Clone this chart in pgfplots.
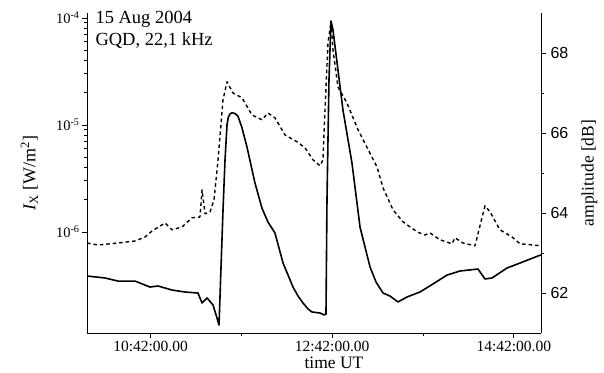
\documentclass[border=0pt]{standalone}
\usepackage{pgfplots}
\pgfplotsset{compat=1.18}
\usepackage{fontspec}
\setmainfont{Liberation Serif}
\newfontfamily\arialfont{Liberation Sans}

\pgfplotstableread{
t I
10.000 3.88e-7
10.198 3.72e-7
10.341 3.48e-7
10.529 3.48e-7
10.694 3.06e-7
10.782 3.13e-7
10.936 2.87e-7
11.079 2.75e-7
11.222 2.69e-7
11.267 2.17e-7
11.322 2.42e-7
11.388 2.08e-7
11.432 1.57e-7
11.454 1.35e-7
11.498 1.61e-6
11.520 4.71e-6
11.542 1.00e-5
11.556 1.18e-5
11.575 1.27e-5
11.597 1.30e-5
11.619 1.29e-5
11.641 1.26e-5
11.663 1.21e-5
11.707 9.40e-6
11.762 6.22e-6
11.850 2.87e-6
11.927 1.67e-6
11.993 1.24e-6
12.070 9.79e-7
12.159 5.13e-7
12.269 3.06e-7
12.324 2.52e-7
12.379 2.17e-7
12.434 1.91e-7
12.478 1.79e-7
12.566 1.75e-7
12.610 1.68e-7
12.632 1.71e-7
12.643 1.99e-6
12.665 2.64e-5
12.687 9.37e-5
12.709 7.73e-5
12.819 1.38e-5
12.918 4.42e-6
13.007 1.11e-6
13.117 4.71e-7
13.183 3.41e-7
13.260 2.69e-7
13.337 2.52e-7
13.425 2.22e-7
13.524 2.47e-7
13.667 2.75e-7
13.811 3.27e-7
13.965 3.96e-7
14.108 4.32e-7
14.306 4.51e-7
14.383 3.64e-7
14.460 3.72e-7
14.626 4.61e-7
14.769 5.13e-7
14.967 5.97e-7
15.000 6.10e-7
}\fluxdata

\pgfplotstableread{
t A
10.000 63.25
10.121 63.20
10.341 63.25
10.529 63.30
10.639 63.40
10.716 63.55
10.859 63.75
10.936 63.58
11.046 63.65
11.156 63.88
11.244 63.90
11.267 64.58
11.300 63.98
11.355 64.03
11.399 64.33
11.443 65.33
11.498 66.83
11.542 67.28
11.608 67.00
11.707 66.88
11.817 66.45
11.927 66.33
11.993 66.50
12.070 66.38
12.181 65.95
12.313 65.78
12.401 65.63
12.489 65.33
12.566 65.18
12.599 65.33
12.621 66.58
12.654 68.25
12.687 68.78
12.709 68.08
12.764 67.15
12.863 66.75
12.985 66.08
13.194 65.15
13.260 64.63
13.370 64.08
13.480 63.78
13.634 63.53
13.722 63.45
13.778 63.50
13.888 63.33
14.020 63.23
14.053 63.38
14.141 63.25
14.273 63.18
14.317 63.58
14.383 64.18
14.438 64.03
14.548 63.58
14.681 63.40
14.769 63.23
14.912 63.20
15.000 63.18
}\ampdata

\begin{document}
\begin{tikzpicture}
\begin{axis}[
  at={(87pt,39pt)}, anchor=south west,
  scale only axis, width=454pt, height=320pt,
  xmin=10, xmax=15,
  ymode=log, ymin=1.138e-7, ymax=1.113e-4,
  axis x line*=bottom, axis y line*=left,
  tick align=outside,
  major tick length=5pt, minor tick length=3pt,
  xtick={10.7,12.7,14.7},
  xticklabels={10:42:00.00,12:42:00.00,14:42:00.00},
  minor xtick={11.7,13.7},
  ytick={1e-6,1e-5,1e-4},
  yticklabels={10\textsuperscript{-6},10\textsuperscript{-5},10\textsuperscript{-4}},
  xticklabel style={font=\fontsize{15.5}{18}\selectfont, inner sep=1pt, yshift=-2pt},
  yticklabel style={font=\fontsize{14.5}{17}\selectfont, xshift=1pt},
  xlabel={time UT},
  xlabel style={font=\fontsize{17.5}{20}\selectfont, inner sep=0pt, at={(axis description cs:0.544,-0.112)}, anchor=base},
  ylabel={\textit{I}\textsubscript{X} [W/m\textsuperscript{2}]},
  ylabel style={font=\fontsize{18}{20}\selectfont, at={(axis description cs:-0.10,0.5)}, anchor=south, rotate=0},
  axis line style={line width=0.9pt},
  every tick/.style={black, line width=0.9pt},
  clip=false,
]
\addplot[black, line width=1.6pt, line join=round] table[x=t, y=I] {\fluxdata};
\node[anchor=base west, font=\fontsize{18.5}{20}\selectfont] at (rel axis cs:0.011,0.966) {15 Aug 2004};
\node[anchor=base west, font=\fontsize{18.5}{20}\selectfont] at (rel axis cs:0.011,0.897) {GQD, 22,1 kHz};
\end{axis}
\begin{axis}[
  at={(87pt,39pt)}, anchor=south west,
  scale only axis, width=454pt, height=320pt,
  xmin=10, xmax=15,
  ymin=61, ymax=69,
  axis x line=none, axis y line*=right,
  tick align=outside,
  major tick length=5pt, minor tick length=3pt,
  ytick={62,64,66,68},
  yticklabels={62,64,66,68},
  minor ytick={63,65,67},
  yticklabel style={font=\arialfont\fontsize{16}{18}\selectfont, xshift=1pt},
  ylabel={amplitude [dB]},
  ylabel style={font=\fontsize{17.5}{20}\selectfont, at={(axis description cs:1.0815,0.5)}, anchor=north, rotate=0},
  axis line style={line width=0.9pt},
  every tick/.style={black, line width=0.9pt},
]
\addplot[black, line width=1.4pt, line join=round, dash pattern=on 3.5pt off 3pt] table[x=t, y=A] {\ampdata};
\end{axis}
\pgfresetboundingbox
\path[use as bounding box] (0,0) rectangle (604pt,372pt);
\end{tikzpicture}
\end{document}
